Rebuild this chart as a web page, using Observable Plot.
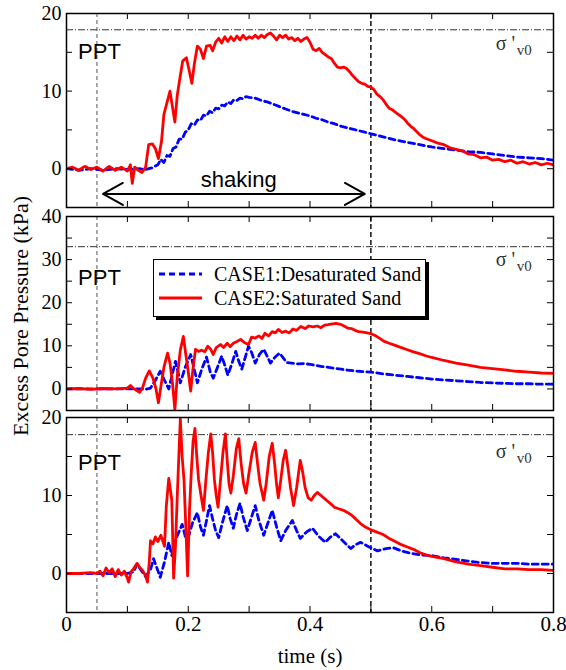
<!DOCTYPE html>
<html>
<head>
<meta charset="utf-8">
<script src="https://cdn.jsdelivr.net/npm/d3@7"></script>
<script src="https://cdn.jsdelivr.net/npm/@observablehq/plot@0.6"></script>
<style>
  body { margin: 0; background: white; }
  #chart { position: relative; width: 566px; height: 670px; overflow: hidden; background: white; font-family: "Liberation Serif", serif; }
  .panel { position: absolute; left: 0; }
  #ylabel { position: absolute; left: 21px; top: 316px; transform: translate(-50%, -50%) rotate(-90deg); white-space: nowrap; font-size: 22px; font-family: "Liberation Serif", serif; color: #000; z-index: 5; }
  #legend { position: absolute; left: 153px; top: 259px; width: 271px; height: 56px; border: 1.5px solid #000; background: #fff; box-shadow: 3px 3px 0 #000; overflow: hidden; z-index: 4; font-family: "Liberation Serif", serif; font-size: 20px; }
  #legend .row { position: absolute; left: 4px; white-space: nowrap; display: flex; align-items: center; }
  #legend svg { margin-right: 12px; }
</style>
</head>
<body>
<div id="chart"></div>
<script>
// ---------------- data (time in s, excess pore pressure in kPa) ----------------
const seriesNames = ["CASE1:Desaturated Sand", "CASE2:Saturated Sand"];
const seriesColors = ["#0000ff", "#ff0000"];
const pptTime = 0.05;          // vertical dashed line (PPT)
const shakingStart = 0.06;
const shakingEnd = 0.49;
const shakingEndLine = 0.5;
const sigmaV0 = [17.9, 33, 17.8];   // effective overburden line in each panel
const xTicksMinor = [0, 0.1, 0.2, 0.3, 0.4, 0.5, 0.6, 0.7, 0.8];
const xTickLabels = [0, 0.2, 0.4, 0.6, 0.8];
const yTickLabels1 = [0, 10, 20];
const yTickLabels2 = [0, 10, 20, 30, 40];
const yTickLabels3 = [0, 10, 20];
const yTicksMinor1 = [0, 5, 10, 15, 20];
const yTicksMinor2 = [0, 5, 10, 15, 20, 25, 30, 35, 40];
const yTicksMinor3 = [0, 5, 10, 15, 20];

const p1Desat = [[0,0],[0.02,-0.2],[0.04,0],[0.06,-0.2],[0.08,0],[0.1,-0.1],[0.12,0],[0.13,-0.1],[0.14,0.1],[0.15,0.5],[0.155,1.2],[0.16,0.8],[0.165,1.7],[0.17,1.6],[0.175,2.6],[0.18,2.8],[0.185,3.8],[0.19,3.8],[0.195,4.7],[0.2,5],[0.205,5.8],[0.21,5.6],[0.215,6.3],[0.22,6.2],[0.225,6.9],[0.23,6.8],[0.235,7.4],[0.24,7.2],[0.245,7.8],[0.25,7.7],[0.255,8.2],[0.26,8.1],[0.265,8.6],[0.27,8.4],[0.275,8.9],[0.28,8.8],[0.285,9.1],[0.29,9.0],[0.295,9.3],[0.3,9.2],[0.31,9.1],[0.32,8.8],[0.33,8.6],[0.34,8.3],[0.35,8.0],[0.36,7.7],[0.37,7.4],[0.38,7.2],[0.39,7.0],[0.4,6.8],[0.41,6.5],[0.42,6.3],[0.43,6.0],[0.44,5.8],[0.45,5.5],[0.46,5.3],[0.47,5.1],[0.48,4.9],[0.49,4.7],[0.5,4.5],[0.52,4.1],[0.54,3.7],[0.56,3.4],[0.58,3.1],[0.6,2.8],[0.62,2.6],[0.64,2.4],[0.66,2.2],[0.68,2.1],[0.7,1.9],[0.72,1.7],[0.74,1.5],[0.76,1.4],[0.78,1.3],[0.8,1.1]];

const p1Sat = [[0,0],[0.01,0.2],[0.02,-0.2],[0.03,0.3],[0.04,-0.1],[0.05,0.2],[0.06,-0.3],[0.07,0.3],[0.08,-0.2],[0.09,0.2],[0.1,-0.3],[0.105,0.5],[0.108,-1.9],[0.112,0.2],[0.118,-0.2],[0.124,-0.5],[0.13,0.2],[0.135,3.1],[0.141,3.2],[0.146,2.6],[0.151,1.3],[0.156,3.5],[0.16,7],[0.165,8.5],[0.17,10],[0.174,8],[0.178,6],[0.182,9.5],[0.187,12],[0.191,13.9],[0.197,14.3],[0.202,12.5],[0.206,11],[0.21,13.5],[0.215,15.8],[0.22,15.4],[0.225,14.2],[0.23,15.8],[0.236,15.9],[0.24,15.2],[0.245,16.3],[0.25,16.8],[0.255,16.2],[0.26,17],[0.265,16.4],[0.27,17],[0.275,16.5],[0.28,17.1],[0.285,16.6],[0.29,17.2],[0.295,16.7],[0.3,17],[0.305,16.8],[0.31,17.2],[0.315,16.8],[0.32,17.2],[0.325,16.9],[0.33,17.3],[0.335,17.5],[0.34,17.1],[0.345,16.6],[0.35,17.2],[0.355,16.9],[0.36,17.2],[0.365,16.7],[0.37,16.9],[0.375,16.5],[0.38,16.8],[0.385,16.4],[0.39,16.7],[0.395,16.9],[0.4,16.3],[0.405,15.4],[0.41,15.2],[0.415,15.5],[0.42,15],[0.425,14.7],[0.43,14.4],[0.435,14.2],[0.44,13.6],[0.445,13.1],[0.45,13],[0.455,13.1],[0.46,12.9],[0.465,12.5],[0.47,12],[0.475,11.6],[0.48,11.2],[0.485,11],[0.49,10.9],[0.495,10.6],[0.5,10.5],[0.505,10.2],[0.51,9.6],[0.515,9.3],[0.52,8.9],[0.525,8.3],[0.53,7.8],[0.535,7.6],[0.54,7.3],[0.545,7.0],[0.55,6.7],[0.555,6.4],[0.56,5.9],[0.565,5.5],[0.57,5.2],[0.575,4.8],[0.58,4.4],[0.585,4.1],[0.59,3.9],[0.6,3.6],[0.61,3.3],[0.62,3.1],[0.63,2.7],[0.64,2.5],[0.65,2.3],[0.66,1.9],[0.67,1.8],[0.68,1.4],[0.69,1.5],[0.7,1.1],[0.71,1.2],[0.72,0.9],[0.73,1.1],[0.74,0.7],[0.75,0.9],[0.76,0.6],[0.77,0.8],[0.78,0.5],[0.79,0.7],[0.8,0.5]];

const p2Desat = [[0,0],[0.04,0],[0.08,0],[0.12,0],[0.13,-0.1],[0.138,0.2],[0.146,2],[0.154,4.1],[0.161,2],[0.168,0],[0.174,3.5],[0.179,6.4],[0.183,4],[0.187,1.4],[0.195,5],[0.204,8],[0.21,4.5],[0.215,1.4],[0.222,4.5],[0.23,7.4],[0.236,4],[0.241,2.5],[0.248,5],[0.255,7.6],[0.26,5.5],[0.265,3.2],[0.272,6],[0.278,8.7],[0.283,6.4],[0.288,4.6],[0.294,7.5],[0.299,9.9],[0.304,8.5],[0.31,6],[0.317,8],[0.324,9.2],[0.33,7.5],[0.335,6],[0.342,7.3],[0.35,8.3],[0.356,7.2],[0.362,6.1],[0.37,6],[0.38,5.8],[0.39,5.9],[0.4,5.7],[0.42,5.2],[0.44,4.8],[0.46,4.4],[0.48,4.1],[0.5,3.9],[0.52,3.5],[0.54,3.2],[0.56,2.9],[0.58,2.6],[0.6,2.3],[0.62,2.1],[0.64,1.9],[0.66,1.7],[0.68,1.5],[0.7,1.4],[0.72,1.3],[0.74,1.2],[0.76,1.2],[0.78,1.1],[0.8,1.1]];

const p2Sat = [[0,0],[0.02,0.1],[0.04,-0.1],[0.06,0.1],[0.08,0],[0.1,0.2],[0.105,0.8],[0.11,0.1],[0.115,-0.3],[0.12,-0.8],[0.125,0.3],[0.13,2.5],[0.136,4.2],[0.142,2.5],[0.147,0],[0.151,-3.2],[0.155,0.5],[0.16,5],[0.166,8.3],[0.17,6],[0.174,1.5],[0.178,-4.8],[0.182,3],[0.187,9],[0.192,12.2],[0.196,8],[0.2,4],[0.204,-0.5],[0.208,5],[0.212,9.2],[0.217,8.7],[0.222,9.0],[0.227,8.6],[0.232,9.9],[0.237,9.2],[0.241,8.0],[0.246,9.6],[0.253,10.3],[0.258,9.6],[0.264,10.6],[0.269,9.8],[0.274,10.6],[0.28,11.0],[0.286,11.5],[0.292,10.8],[0.299,10.3],[0.304,12.0],[0.31,11.8],[0.316,12.3],[0.321,11.7],[0.326,12.9],[0.332,12.3],[0.338,13.3],[0.343,13.0],[0.348,13.8],[0.354,13.1],[0.36,13.4],[0.366,13.0],[0.372,13.9],[0.378,13.6],[0.385,14.5],[0.392,14.0],[0.398,14.6],[0.405,14.4],[0.412,14.6],[0.418,14.2],[0.424,14.8],[0.43,14.9],[0.437,15.1],[0.443,15.2],[0.45,15.0],[0.456,14.6],[0.462,14.1],[0.468,14.0],[0.474,13.6],[0.48,13.3],[0.487,13.2],[0.494,13.0],[0.5,12.8],[0.507,12.4],[0.514,11.8],[0.521,11.1],[0.53,10.6],[0.54,10.1],[0.55,9.6],[0.56,9.1],[0.57,8.6],[0.58,8.2],[0.59,7.7],[0.6,7.3],[0.62,6.6],[0.64,6.0],[0.66,5.5],[0.68,5.0],[0.7,4.7],[0.72,4.4],[0.74,4.1],[0.76,3.9],[0.78,3.7],[0.8,3.6]];

const p3Desat = [[0,0],[0.04,0],[0.08,0],[0.1,0],[0.11,0.2],[0.116,1.2],[0.122,0.5],[0.13,-0.4],[0.138,0.5],[0.143,1.9],[0.149,0.6],[0.154,-0.5],[0.161,1.5],[0.168,4],[0.173,2.3],[0.18,4.5],[0.19,6.3],[0.196,4.5],[0.2,4.6],[0.207,6.5],[0.215,7.8],[0.22,6],[0.225,4.9],[0.23,6.8],[0.235,8.7],[0.24,7],[0.245,5.5],[0.25,4.6],[0.256,6.5],[0.264,8.7],[0.269,7],[0.274,5.8],[0.279,7.5],[0.285,9.0],[0.29,7.3],[0.297,5.5],[0.303,7],[0.31,8.7],[0.316,6.8],[0.324,4.9],[0.331,6.5],[0.338,8.1],[0.345,6],[0.352,4.2],[0.36,5.5],[0.371,6.8],[0.378,5.5],[0.384,4.5],[0.394,5.3],[0.404,5.8],[0.414,4.8],[0.425,4.0],[0.434,4.7],[0.442,5.1],[0.455,4.1],[0.467,3.2],[0.475,3.7],[0.483,4.0],[0.497,3.4],[0.511,2.9],[0.525,3.2],[0.537,3.3],[0.55,2.9],[0.565,2.6],[0.58,2.4],[0.6,2.3],[0.62,2.0],[0.64,1.8],[0.66,1.6],[0.68,1.4],[0.7,1.3],[0.72,1.3],[0.74,1.3],[0.76,1.2],[0.78,1.2],[0.8,1.2]];

const p3Sat = [[0,0],[0.02,0],[0.04,0.1],[0.05,0],[0.055,0.3],[0.06,-0.3],[0.065,0.7],[0.07,0.1],[0.075,0.6],[0.08,-0.4],[0.085,0.5],[0.09,-0.2],[0.095,0.3],[0.1,-0.6],[0.102,-1.1],[0.106,0.2],[0.11,0.6],[0.116,1.3],[0.12,0.8],[0.125,0.4],[0.13,-0.3],[0.133,-1.1],[0.136,1.5],[0.138,4.2],[0.142,3.8],[0.146,4.7],[0.15,4.1],[0.155,4.9],[0.158,4.2],[0.161,3.5],[0.164,8.7],[0.168,12.2],[0.171,10.5],[0.173,9.4],[0.176,-0.6],[0.179,3.5],[0.182,10],[0.185,16],[0.187,19.8],[0.19,15],[0.193,12],[0.196,6],[0.199,-0.3],[0.202,8],[0.205,13],[0.208,17],[0.211,18.6],[0.214,15],[0.217,12],[0.221,10],[0.225,8.1],[0.229,12],[0.233,15.5],[0.237,17.9],[0.24,15.5],[0.243,12],[0.246,10],[0.249,8.5],[0.253,12],[0.257,15.5],[0.261,17.9],[0.264,14.5],[0.267,11.5],[0.27,10.3],[0.274,12.5],[0.279,16],[0.283,17.3],[0.287,14],[0.291,11.5],[0.295,10.3],[0.299,12.5],[0.305,15.5],[0.31,16.8],[0.314,14],[0.318,11.5],[0.324,9.4],[0.328,11.5],[0.333,15],[0.338,16.7],[0.342,14],[0.345,11.5],[0.348,9.7],[0.352,12],[0.356,14.5],[0.36,15.8],[0.364,13.5],[0.368,11],[0.373,8.7],[0.378,11],[0.384,14.5],[0.388,13],[0.392,11],[0.397,9.7],[0.402,9.4],[0.407,10],[0.412,10.4],[0.418,10],[0.424,9.6],[0.43,9.2],[0.436,8.8],[0.44,8.5],[0.447,8.3],[0.455,8.1],[0.462,7.8],[0.468,7.5],[0.475,7],[0.483,6.4],[0.49,6],[0.5,5.6],[0.51,5.3],[0.52,5.0],[0.53,4.5],[0.54,4.1],[0.55,3.7],[0.56,3.4],[0.57,3.1],[0.58,2.7],[0.59,2.4],[0.6,2.2],[0.62,1.9],[0.64,1.5],[0.66,1.2],[0.68,1.0],[0.7,0.8],[0.72,0.6],[0.74,0.6],[0.76,0.5],[0.78,0.5],[0.8,0.4]];

// annotation anchors (data coordinates)
const pptLabelY = [15, 25.7, 14.2];
const sigmaLabelY = [16.1, 29.9, 15.6];
const sigmaLabelX = 0.705;
const pptLabelX = 0.019;
const shakingLabel = {t: 0.283, v: -1.5};
const shakingArrowV = -3.25;

// ---------------- layout ----------------
const W = 566, ML = 66, MR = 13;
const innerW = W - ML - MR;
const SERIF = "'Liberation Serif', 'Times New Roman', serif";
const SANS = "'Liberation Sans', Arial, sans-serif";
const chart = document.getElementById("chart");

function panel(cfg) {
  const innerH = cfg.height - cfg.marginTop - cfg.marginBottom;
  const marks = [
    Plot.ruleY([cfg.sigma], {stroke: "#333", strokeWidth: 1, strokeDasharray: "7,2,1,2"}),
    Plot.ruleX([pptTime], {stroke: "#555", strokeWidth: 1, strokeDasharray: "4,3"}),
    Plot.ruleX([shakingEndLine], {stroke: "#000", strokeWidth: 1.4, strokeDasharray: "5,3"}),
    Plot.line(cfg.desat, {x: d => d[0], y: d => d[1], stroke: seriesColors[0], strokeWidth: 2.8, strokeDasharray: "6,4", clip: true}),
    Plot.line(cfg.sat, {x: d => d[0], y: d => d[1], stroke: seriesColors[1], strokeWidth: 2.8, clip: true}),
    Plot.tickY(cfg.yMinor, {y: d => d, insetRight: innerW - 6, stroke: "#000", strokeWidth: 1}),
    Plot.tickY(cfg.yMinor, {y: d => d, insetLeft: innerW - 6, stroke: "#000", strokeWidth: 1}),
    Plot.tickX(xTicksMinor, {x: d => d, insetTop: innerH - 6, stroke: "#000", strokeWidth: 1}),
    Plot.tickX(xTicksMinor, {x: d => d, insetBottom: innerH - 6, stroke: "#000", strokeWidth: 1}),
    Plot.frame({stroke: "#000", strokeWidth: 1.5}),
    Plot.axisY(cfg.yLabels, {tickSize: 0, tickPadding: 5, label: null, fontSize: 20, fontFamily: SERIF, fontVariant: "normal"}),
    Plot.text(["PPT"], {x: pptLabelX, y: cfg.pptY, text: d => d, textAnchor: "start", fontFamily: SANS, fontSize: 22, fill: "#000"}),
    Plot.text(["σ '"], {x: sigmaLabelX, y: cfg.sigmaY, text: d => d, textAnchor: "start", fontFamily: SERIF, fontSize: 20, fill: "#333"}),
    Plot.text(["v0"], {x: sigmaLabelX, y: cfg.sigmaY, text: d => d, textAnchor: "start", dx: 21, dy: 6, fontFamily: SERIF, fontSize: 15, fill: "#333"})
  ];
  if (cfg.extra) marks.push(...cfg.extra);
  if (cfg.xAxis) {
    marks.push(Plot.axisX(xTickLabels, {tickSize: 0, tickPadding: 4, fontSize: 21, fontFamily: SERIF, fontVariant: "normal",
      tickFormat: d => d === 0 ? "0" : String(d),
      label: "time (s)", labelAnchor: "center", labelOffset: 50, labelArrow: "none"}));
  }
  const p = Plot.plot({
    width: W, height: cfg.height,
    marginLeft: ML, marginRight: MR, marginTop: cfg.marginTop, marginBottom: cfg.marginBottom,
    x: {domain: [0, 0.8], axis: cfg.xAxis ? undefined : null},
    y: {domain: cfg.domain},
    style: {fontFamily: SERIF, fontSize: "22px", color: "#000", background: "transparent", overflow: "visible"},
    marks
  });
  p.classList.add("panel");
  p.style.position = "absolute";
  p.style.top = cfg.top + "px";
  p.style.left = "0px";
  chart.appendChild(p);
}

const shakingMid = (shakingStart + shakingEnd) / 2;
panel({top: 0, height: 212, marginTop: 13, marginBottom: 5, domain: [-5, 20],
  desat: p1Desat, sat: p1Sat, sigma: sigmaV0[0], yLabels: yTickLabels1, yMinor: yTicksMinor1,
  pptY: pptLabelY[0], sigmaY: sigmaLabelY[0],
  extra: [
    Plot.arrow([0], {x1: shakingMid, y1: shakingArrowV, x2: shakingStart, y2: shakingArrowV, stroke: "#000", strokeWidth: 2, headLength: 17, headAngle: 58, insetEnd: 0, insetStart: 0}),
    Plot.arrow([0], {x1: shakingMid, y1: shakingArrowV, x2: shakingEnd, y2: shakingArrowV, stroke: "#000", strokeWidth: 2, headLength: 17, headAngle: 58, insetEnd: 0, insetStart: 0}),
    Plot.text(["shaking"], {x: shakingLabel.t, y: shakingLabel.v, text: d => d, fontFamily: SANS, fontSize: 22, fill: "#000"})
  ]});
panel({top: 212, height: 200, marginTop: 4, marginBottom: 2, domain: [-5, 40],
  desat: p2Desat, sat: p2Sat, sigma: sigmaV0[1], yLabels: yTickLabels2, yMinor: yTicksMinor2,
  pptY: pptLabelY[1], sigmaY: sigmaLabelY[1]});
panel({top: 412, height: 258, marginTop: 5, marginBottom: 58, domain: [-5, 20],
  desat: p3Desat, sat: p3Sat, sigma: sigmaV0[2], yLabels: yTickLabels3, yMinor: yTicksMinor3,
  pptY: pptLabelY[2], sigmaY: sigmaLabelY[2], xAxis: true});

// y label spanning all panels
const yl = document.createElement("div");
yl.id = "ylabel";
yl.textContent = "Excess Pore Pressure (kPa)";
chart.appendChild(yl);

// legend (inside middle panel)
const lg = document.createElement("div");
lg.id = "legend";
seriesNames.forEach((name, i) => {
  const row = document.createElement("div");
  row.className = "row";
  row.style.top = (i === 0 ? 2 : 26) + "px";
  const dash = i === 0 ? ' stroke-dasharray="6,4"' : "";
  row.innerHTML = `<svg width="44" height="24"><line x1="1" x2="44" y1="12" y2="12" stroke="${seriesColors[i]}" stroke-width="2.8"${dash}/></svg><span>${name}</span>`;
  lg.appendChild(row);
});
chart.appendChild(lg);
</script>
</body>
</html>
